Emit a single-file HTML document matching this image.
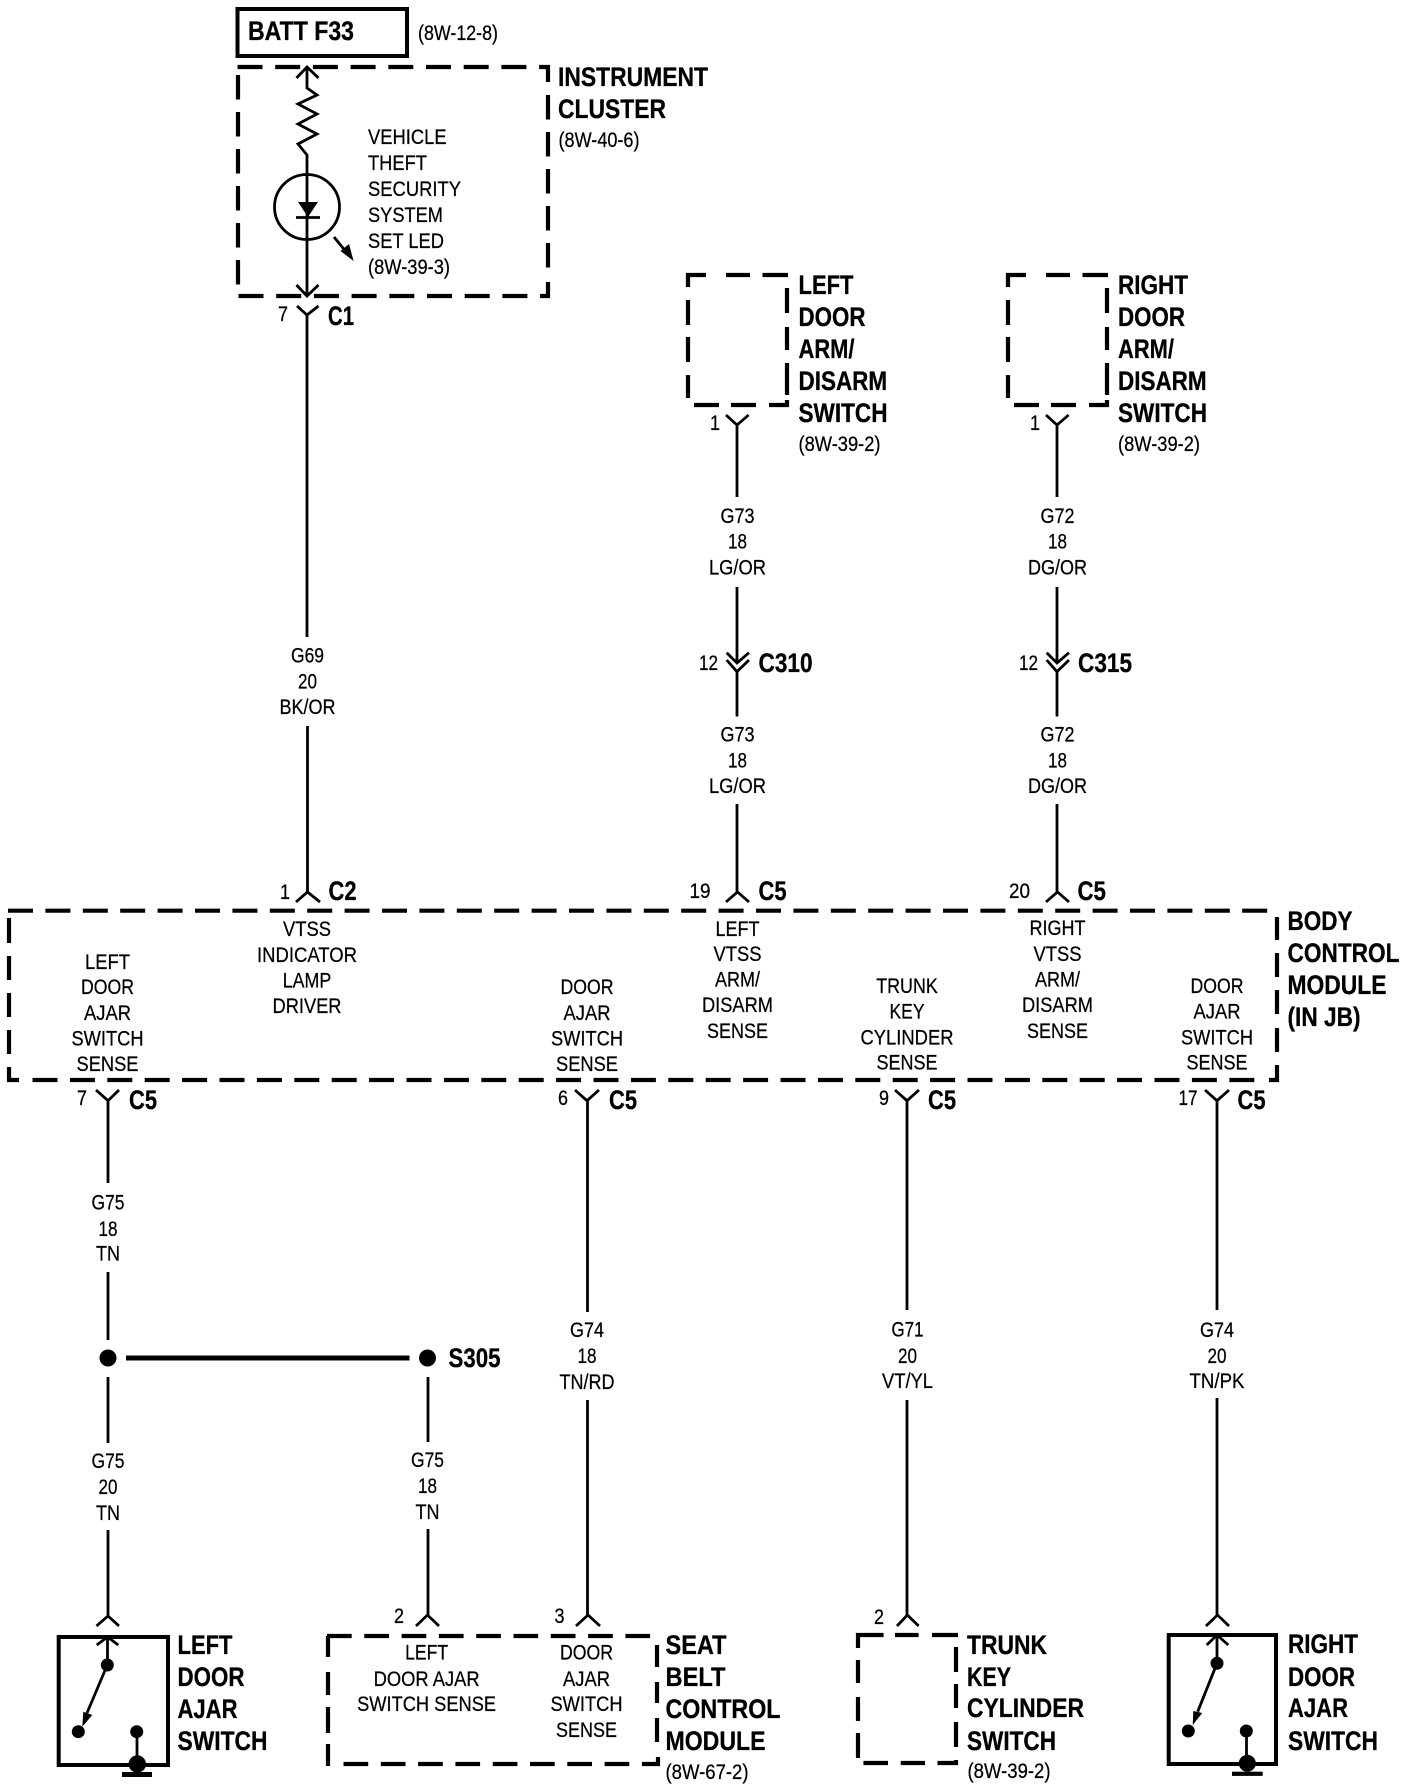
<!DOCTYPE html>
<html><head><meta charset="utf-8"><style>
html,body{margin:0;padding:0;background:#fff}
svg{display:block}
text{font-family:"Liberation Sans",sans-serif;fill:#000}
.r{font-size:21.5px;stroke:#000;stroke-width:.25}
.b{font-size:27px;font-weight:bold;stroke:#000;stroke-width:.3}
.m text{text-anchor:middle}
.l{fill:none;stroke:#000;stroke-width:2.8}
.d{fill:none;stroke:#000;stroke-width:4.2}
</style></head><body>
<svg width="1408" height="1790" viewBox="0 0 1408 1790" xmlns="http://www.w3.org/2000/svg">
<rect width="1408" height="1790" fill="#fff"/>

<!-- BATT -->
<rect x="237.5" y="9" width="169.5" height="47" fill="none" stroke="#000" stroke-width="4"/>
<text class="b" x="248" y="40" textLength="106" lengthAdjust="spacingAndGlyphs">BATT F33</text>
<text class="r" x="418" y="40" textLength="80" lengthAdjust="spacingAndGlyphs">(8W-12-8)</text>

<!-- Instrument cluster -->
<path class="d" stroke-dasharray="25 12.7" d="M237.5 67H549"/>
<path class="d" stroke-dasharray="25 12.7" d="M238.5 296H549"/>
<path class="d" stroke-dasharray="24.5 12.5" d="M238 75V285"/>
<path class="d" d="M548 65V82M548 282V298"/>
<path class="d" stroke-dasharray="24.5 12.5" d="M548 95V270"/>
<path class="l" d="M296.5 78L307 67L318.5 78M307 67V88L317 95L298 104L317 114L298 124L317 134L298 144L307 155V296M296.5 285L307 296L318.5 285"/>
<circle cx="307" cy="207" r="32.5" fill="none" stroke="#000" stroke-width="2.8"/>
<path d="M298 202H318L308 217Z" fill="#000"/>
<path class="l" d="M296 217.5H320"/>
<path class="l" d="M334 237L347 253"/>
<path d="M353.6 261L340.5 251L349 244Z" fill="#000"/>
<text class="r" x="368" y="144" textLength="78.6" lengthAdjust="spacingAndGlyphs">VEHICLE</text>
<text class="r" x="368" y="170" textLength="59" lengthAdjust="spacingAndGlyphs">THEFT</text>
<text class="r" x="368" y="196" textLength="93" lengthAdjust="spacingAndGlyphs">SECURITY</text>
<text class="r" x="368" y="222" textLength="75" lengthAdjust="spacingAndGlyphs">SYSTEM</text>
<text class="r" x="368" y="248" textLength="76" lengthAdjust="spacingAndGlyphs">SET LED</text>
<text class="r" x="368" y="274" textLength="82" lengthAdjust="spacingAndGlyphs">(8W-39-3)</text>
<text class="b" x="558" y="86" textLength="150" lengthAdjust="spacingAndGlyphs">INSTRUMENT</text>
<text class="b" x="558" y="118" textLength="108" lengthAdjust="spacingAndGlyphs">CLUSTER</text>
<text class="r" x="558.5" y="147" textLength="81" lengthAdjust="spacingAndGlyphs">(8W-40-6)</text>

<!-- C1 + G69 wire -->
<path class="l" d="M297 306L307 315L318.5 306M307 315V637M307.5 726V892M296 902L307.5 892L320 902"/>
<text class="r" x="278" y="321" textLength="10" lengthAdjust="spacingAndGlyphs">7</text>
<text class="b" x="328" y="325" textLength="26" lengthAdjust="spacingAndGlyphs">C1</text>
<g class="m">
<text class="r" x="307.5" y="662.5" textLength="33" lengthAdjust="spacingAndGlyphs">G69</text>
<text class="r" x="307.5" y="688.5" textLength="19" lengthAdjust="spacingAndGlyphs">20</text>
<text class="r" x="307.5" y="714" textLength="56" lengthAdjust="spacingAndGlyphs">BK/OR</text>
</g>

<!-- Left door arm switch -->
<g id="arm">
<path class="d" d="M688 287V275H706M726 275H750M762.5 275H788M688 300V325M688 337V362M688 375V398M787 288V313M787 327V350M787 363V395M787 400V405H769M756 405H731M719 405H694"/>
<path class="l" d="M726 415L737 425L748.6 415M737 425V497M737 587V663M726.7 652.7L737 663L749 652.7M726.7 660L737 671.7L749 660M737 671.7V716.5M737 804V892M726 902L737.5 892L749 902"/>
</g>
<text class="b" x="798.5" y="294" textLength="55" lengthAdjust="spacingAndGlyphs">LEFT</text>
<text class="b" x="798.5" y="326" textLength="67" lengthAdjust="spacingAndGlyphs">DOOR</text>
<text class="b" x="798.5" y="358" textLength="56" lengthAdjust="spacingAndGlyphs">ARM/</text>
<text class="b" x="798.5" y="390" textLength="88.6" lengthAdjust="spacingAndGlyphs">DISARM</text>
<text class="b" x="798.5" y="422" textLength="89" lengthAdjust="spacingAndGlyphs">SWITCH</text>
<text class="r" x="798.5" y="451" textLength="82" lengthAdjust="spacingAndGlyphs">(8W-39-2)</text>
<text class="r" x="710" y="430" textLength="10" lengthAdjust="spacingAndGlyphs">1</text>
<text class="r" x="699" y="670" textLength="19" lengthAdjust="spacingAndGlyphs">12</text>
<text class="b" x="758.5" y="672" textLength="54" lengthAdjust="spacingAndGlyphs">C310</text>
<g class="m">
<text class="r" x="737.5" y="523" textLength="34" lengthAdjust="spacingAndGlyphs">G73</text>
<text class="r" x="737.5" y="548.5" textLength="19" lengthAdjust="spacingAndGlyphs">18</text>
<text class="r" x="737.5" y="574.5" textLength="57" lengthAdjust="spacingAndGlyphs">LG/OR</text>
<text class="r" x="737.5" y="741.5" textLength="34" lengthAdjust="spacingAndGlyphs">G73</text>
<text class="r" x="737.5" y="767.5" textLength="19" lengthAdjust="spacingAndGlyphs">18</text>
<text class="r" x="737.5" y="793" textLength="57" lengthAdjust="spacingAndGlyphs">LG/OR</text>
</g>

<!-- Right door arm switch -->
<use href="#arm" x="320" y="0"/>
<text class="b" x="1118" y="294" textLength="70" lengthAdjust="spacingAndGlyphs">RIGHT</text>
<text class="b" x="1118" y="326" textLength="67" lengthAdjust="spacingAndGlyphs">DOOR</text>
<text class="b" x="1118" y="358" textLength="56" lengthAdjust="spacingAndGlyphs">ARM/</text>
<text class="b" x="1118" y="390" textLength="88.6" lengthAdjust="spacingAndGlyphs">DISARM</text>
<text class="b" x="1118" y="422" textLength="89" lengthAdjust="spacingAndGlyphs">SWITCH</text>
<text class="r" x="1118" y="451" textLength="82" lengthAdjust="spacingAndGlyphs">(8W-39-2)</text>
<text class="r" x="1030" y="430" textLength="10" lengthAdjust="spacingAndGlyphs">1</text>
<text class="r" x="1019" y="670" textLength="19" lengthAdjust="spacingAndGlyphs">12</text>
<text class="b" x="1078" y="672" textLength="54" lengthAdjust="spacingAndGlyphs">C315</text>
<g class="m">
<text class="r" x="1057.5" y="523" textLength="34" lengthAdjust="spacingAndGlyphs">G72</text>
<text class="r" x="1057.5" y="548.5" textLength="19" lengthAdjust="spacingAndGlyphs">18</text>
<text class="r" x="1057.5" y="574.5" textLength="59" lengthAdjust="spacingAndGlyphs">DG/OR</text>
<text class="r" x="1057.5" y="741.5" textLength="34" lengthAdjust="spacingAndGlyphs">G72</text>
<text class="r" x="1057.5" y="767.5" textLength="19" lengthAdjust="spacingAndGlyphs">18</text>
<text class="r" x="1057.5" y="793" textLength="59" lengthAdjust="spacingAndGlyphs">DG/OR</text>
</g>

<!-- Connector labels above BCM -->
<text class="r" x="280" y="899" textLength="10" lengthAdjust="spacingAndGlyphs">1</text>
<text class="b" x="328.5" y="900" textLength="28" lengthAdjust="spacingAndGlyphs">C2</text>
<text class="r" x="689.5" y="898" textLength="21" lengthAdjust="spacingAndGlyphs">19</text>
<text class="b" x="758.5" y="900" textLength="28" lengthAdjust="spacingAndGlyphs">C5</text>
<text class="r" x="1009" y="898" textLength="21" lengthAdjust="spacingAndGlyphs">20</text>
<text class="b" x="1077.5" y="900" textLength="28.4" lengthAdjust="spacingAndGlyphs">C5</text>

<!-- BCM box -->
<path class="d" stroke-dasharray="25 12.4" d="M8 910.7H1270"/>
<path class="d" d="M9 918V943M9 956V980M9 993V1017M9 1030V1054M9 1067V1080H19M1277 917V940M1277 953V977M1277 990V1014M1277 1028V1052M1277 1065V1080H1269"/>
<path class="d" stroke-dasharray="25 12.4" d="M32.5 1080H1256"/>
<g class="m">
<text class="r" x="307" y="936" textLength="48" lengthAdjust="spacingAndGlyphs">VTSS</text>
<text class="r" x="307" y="962" textLength="100" lengthAdjust="spacingAndGlyphs">INDICATOR</text>
<text class="r" x="307" y="987.5" textLength="48.5" lengthAdjust="spacingAndGlyphs">LAMP</text>
<text class="r" x="307" y="1013" textLength="69" lengthAdjust="spacingAndGlyphs">DRIVER</text>

<text class="r" x="107.5" y="969" textLength="45" lengthAdjust="spacingAndGlyphs">LEFT</text>
<text class="r" x="107.5" y="994" textLength="53" lengthAdjust="spacingAndGlyphs">DOOR</text>
<text class="r" x="107.5" y="1020" textLength="47" lengthAdjust="spacingAndGlyphs">AJAR</text>
<text class="r" x="107.5" y="1045.5" textLength="72" lengthAdjust="spacingAndGlyphs">SWITCH</text>
<text class="r" x="107.5" y="1071" textLength="62" lengthAdjust="spacingAndGlyphs">SENSE</text>

<text class="r" x="587" y="994" textLength="53" lengthAdjust="spacingAndGlyphs">DOOR</text>
<text class="r" x="587" y="1020" textLength="47" lengthAdjust="spacingAndGlyphs">AJAR</text>
<text class="r" x="587" y="1045.5" textLength="72" lengthAdjust="spacingAndGlyphs">SWITCH</text>
<text class="r" x="587" y="1071" textLength="62" lengthAdjust="spacingAndGlyphs">SENSE</text>

<text class="r" x="737.5" y="936" textLength="44" lengthAdjust="spacingAndGlyphs">LEFT</text>
<text class="r" x="737.5" y="961" textLength="48" lengthAdjust="spacingAndGlyphs">VTSS</text>
<text class="r" x="737.5" y="986.5" textLength="45" lengthAdjust="spacingAndGlyphs">ARM/</text>
<text class="r" x="737.5" y="1012" textLength="71" lengthAdjust="spacingAndGlyphs">DISARM</text>
<text class="r" x="737.5" y="1038" textLength="61" lengthAdjust="spacingAndGlyphs">SENSE</text>

<text class="r" x="907" y="993" textLength="61.5" lengthAdjust="spacingAndGlyphs">TRUNK</text>
<text class="r" x="907" y="1018.5" textLength="35" lengthAdjust="spacingAndGlyphs">KEY</text>
<text class="r" x="907" y="1044.5" textLength="93" lengthAdjust="spacingAndGlyphs">CYLINDER</text>
<text class="r" x="907" y="1069.5" textLength="61" lengthAdjust="spacingAndGlyphs">SENSE</text>

<text class="r" x="1057.5" y="935" textLength="56" lengthAdjust="spacingAndGlyphs">RIGHT</text>
<text class="r" x="1057.5" y="961" textLength="48" lengthAdjust="spacingAndGlyphs">VTSS</text>
<text class="r" x="1057.5" y="986.5" textLength="45" lengthAdjust="spacingAndGlyphs">ARM/</text>
<text class="r" x="1057.5" y="1012" textLength="71" lengthAdjust="spacingAndGlyphs">DISARM</text>
<text class="r" x="1057.5" y="1038" textLength="61" lengthAdjust="spacingAndGlyphs">SENSE</text>

<text class="r" x="1217" y="993" textLength="53" lengthAdjust="spacingAndGlyphs">DOOR</text>
<text class="r" x="1217" y="1018.5" textLength="47" lengthAdjust="spacingAndGlyphs">AJAR</text>
<text class="r" x="1217" y="1044.5" textLength="72" lengthAdjust="spacingAndGlyphs">SWITCH</text>
<text class="r" x="1217" y="1069.5" textLength="61" lengthAdjust="spacingAndGlyphs">SENSE</text>
</g>
<text class="b" x="1287.5" y="930" textLength="65" lengthAdjust="spacingAndGlyphs">BODY</text>
<text class="b" x="1287.5" y="962" textLength="112" lengthAdjust="spacingAndGlyphs">CONTROL</text>
<text class="b" x="1287.5" y="994" textLength="99" lengthAdjust="spacingAndGlyphs">MODULE</text>
<text class="b" x="1287.5" y="1026" textLength="73" lengthAdjust="spacingAndGlyphs">(IN JB)</text>

<!-- Connectors below BCM -->
<path class="l" d="M96 1090L108 1100.7L119 1090M575 1090L587 1100.7L599 1090M895 1090L907 1100.7L919 1090M1205 1090L1217 1100.7L1229 1090"/>
<path class="l" d="M108 1100.7V1183M108 1272V1340M108 1377V1443M108 1530V1616M587.5 1100.7V1312M587.5 1400V1615M907 1100.7V1310M907 1400V1615M1217 1100.7V1310M1217 1398V1615M428 1377V1442M428 1529V1615"/>
<text class="r" x="77" y="1105" textLength="10" lengthAdjust="spacingAndGlyphs">7</text>
<text class="b" x="129" y="1109" textLength="28" lengthAdjust="spacingAndGlyphs">C5</text>
<text class="r" x="558" y="1105" textLength="10" lengthAdjust="spacingAndGlyphs">6</text>
<text class="b" x="609" y="1109" textLength="28" lengthAdjust="spacingAndGlyphs">C5</text>
<text class="r" x="879" y="1105" textLength="10" lengthAdjust="spacingAndGlyphs">9</text>
<text class="b" x="928" y="1109" textLength="28" lengthAdjust="spacingAndGlyphs">C5</text>
<text class="r" x="1178.5" y="1105" textLength="19" lengthAdjust="spacingAndGlyphs">17</text>
<text class="b" x="1237.5" y="1109" textLength="28" lengthAdjust="spacingAndGlyphs">C5</text>

<g class="m">
<text class="r" x="108" y="1209.5" textLength="33" lengthAdjust="spacingAndGlyphs">G75</text>
<text class="r" x="108" y="1236" textLength="19" lengthAdjust="spacingAndGlyphs">18</text>
<text class="r" x="108" y="1260.7" textLength="24" lengthAdjust="spacingAndGlyphs">TN</text>
<text class="r" x="108" y="1468" textLength="33" lengthAdjust="spacingAndGlyphs">G75</text>
<text class="r" x="108" y="1494" textLength="19" lengthAdjust="spacingAndGlyphs">20</text>
<text class="r" x="108" y="1520" textLength="24" lengthAdjust="spacingAndGlyphs">TN</text>
<text class="r" x="427.5" y="1467" textLength="33" lengthAdjust="spacingAndGlyphs">G75</text>
<text class="r" x="427.5" y="1493" textLength="19" lengthAdjust="spacingAndGlyphs">18</text>
<text class="r" x="427.5" y="1519" textLength="24" lengthAdjust="spacingAndGlyphs">TN</text>
<text class="r" x="587" y="1337" textLength="34" lengthAdjust="spacingAndGlyphs">G74</text>
<text class="r" x="587" y="1363" textLength="19" lengthAdjust="spacingAndGlyphs">18</text>
<text class="r" x="587" y="1389" textLength="55" lengthAdjust="spacingAndGlyphs">TN/RD</text>
<text class="r" x="907.5" y="1336.5" textLength="32" lengthAdjust="spacingAndGlyphs">G71</text>
<text class="r" x="907.5" y="1363" textLength="19" lengthAdjust="spacingAndGlyphs">20</text>
<text class="r" x="907.5" y="1388" textLength="51" lengthAdjust="spacingAndGlyphs">VT/YL</text>
<text class="r" x="1217" y="1337" textLength="34" lengthAdjust="spacingAndGlyphs">G74</text>
<text class="r" x="1217" y="1363" textLength="19" lengthAdjust="spacingAndGlyphs">20</text>
<text class="r" x="1217" y="1388" textLength="55" lengthAdjust="spacingAndGlyphs">TN/PK</text>
</g>

<!-- Splice -->
<circle cx="108" cy="1358" r="8.5"/>
<circle cx="427.5" cy="1358" r="8.5"/>
<rect x="126" y="1355.5" width="283.5" height="5"/>
<text class="b" x="448.5" y="1367" textLength="52" lengthAdjust="spacingAndGlyphs">S305</text>

<!-- Left door ajar switch -->
<path class="l" d="M96.5 1626L108 1616L119 1626M96.7 1645L107.5 1637L118.3 1645M107.5 1637V1665M107.3 1665L87 1713"/>
<rect x="58.7" y="1637" width="109.3" height="128" fill="none" stroke="#000" stroke-width="4"/>
<circle cx="107.3" cy="1665" r="6.5"/>
<circle cx="78.3" cy="1731.7" r="6.5"/>
<path d="M82.3 1726.7L83.3 1711.7L92.3 1715Z" fill="#000"/>
<circle cx="136.7" cy="1731.7" r="6.5"/>
<path class="l" d="M137 1731.7V1765"/>
<circle cx="137.3" cy="1764" r="8.7"/>
<rect x="122" y="1772" width="30" height="5"/>
<text class="b" x="177.5" y="1654" textLength="55" lengthAdjust="spacingAndGlyphs">LEFT</text>
<text class="b" x="177.5" y="1686" textLength="67" lengthAdjust="spacingAndGlyphs">DOOR</text>
<text class="b" x="177.5" y="1718" textLength="60" lengthAdjust="spacingAndGlyphs">AJAR</text>
<text class="b" x="177.5" y="1750" textLength="90" lengthAdjust="spacingAndGlyphs">SWITCH</text>

<!-- Seat belt control module -->
<path class="d" stroke-dasharray="24.7 12.6" d="M327 1636H653"/>
<path class="d" stroke-dasharray="24.7 12.6" d="M343.5 1764H644"/>
<path class="d" d="M328 1636V1657M328 1672V1695M328 1707V1733M328 1744V1766M644 1764H658V1757M657 1645V1667M657 1682V1703M657 1718V1742"/>
<path class="l" d="M416 1626L427.5 1615L439 1626M576 1626L588 1615L600 1626"/>
<text class="r" x="394" y="1623" textLength="10" lengthAdjust="spacingAndGlyphs">2</text>
<text class="r" x="554.5" y="1623" textLength="10" lengthAdjust="spacingAndGlyphs">3</text>
<g class="m">
<text class="r" x="426.6" y="1659.7" textLength="43" lengthAdjust="spacingAndGlyphs">LEFT</text>
<text class="r" x="426.6" y="1686" textLength="106" lengthAdjust="spacingAndGlyphs">DOOR AJAR</text>
<text class="r" x="426.6" y="1711" textLength="139" lengthAdjust="spacingAndGlyphs">SWITCH SENSE</text>
<text class="r" x="586.5" y="1659.7" textLength="53" lengthAdjust="spacingAndGlyphs">DOOR</text>
<text class="r" x="586.5" y="1686" textLength="47" lengthAdjust="spacingAndGlyphs">AJAR</text>
<text class="r" x="586.5" y="1711" textLength="72" lengthAdjust="spacingAndGlyphs">SWITCH</text>
<text class="r" x="586.5" y="1737" textLength="61" lengthAdjust="spacingAndGlyphs">SENSE</text>
</g>
<text class="b" x="665.5" y="1654" textLength="61" lengthAdjust="spacingAndGlyphs">SEAT</text>
<text class="b" x="665.5" y="1686" textLength="60" lengthAdjust="spacingAndGlyphs">BELT</text>
<text class="b" x="665.5" y="1718" textLength="115" lengthAdjust="spacingAndGlyphs">CONTROL</text>
<text class="b" x="665.5" y="1750" textLength="100" lengthAdjust="spacingAndGlyphs">MODULE</text>
<text class="r" x="665.5" y="1779" textLength="83" lengthAdjust="spacingAndGlyphs">(8W-67-2)</text>

<!-- Trunk key cylinder switch -->
<path class="d" d="M883.6 1635H858V1648M895 1635H918.6M932 1635H958M858 1660V1683M858 1697V1721M858 1733V1758M956 1647V1672M956 1684V1708M956 1722V1747M956 1760V1763H937.5M925 1763H900.7M888 1763H863.4"/>
<path class="l" d="M897 1626L907.4 1615L918.6 1626"/>
<text class="r" x="874" y="1624" textLength="10" lengthAdjust="spacingAndGlyphs">2</text>
<text class="b" x="967" y="1654" textLength="80" lengthAdjust="spacingAndGlyphs">TRUNK</text>
<text class="b" x="967" y="1686" textLength="44" lengthAdjust="spacingAndGlyphs">KEY</text>
<text class="b" x="967" y="1717" textLength="117" lengthAdjust="spacingAndGlyphs">CYLINDER</text>
<text class="b" x="967" y="1750" textLength="89" lengthAdjust="spacingAndGlyphs">SWITCH</text>
<text class="r" x="967.5" y="1778" textLength="83" lengthAdjust="spacingAndGlyphs">(8W-39-2)</text>

<!-- Right door ajar switch -->
<path class="l" d="M1206 1626L1217.5 1615L1229 1626M1206.7 1645L1217 1635L1228.3 1645M1217 1635V1663M1217 1663.3L1197.7 1711.7"/>
<rect x="1168.7" y="1635" width="107.3" height="129" fill="none" stroke="#000" stroke-width="4"/>
<circle cx="1217" cy="1663.3" r="6.5"/>
<circle cx="1188.3" cy="1731" r="6.5"/>
<path d="M1192.7 1725L1193.3 1711L1202.3 1713Z" fill="#000"/>
<circle cx="1246.3" cy="1731" r="6.5"/>
<path class="l" d="M1246.5 1731V1765"/>
<circle cx="1247.3" cy="1763.3" r="8.5"/>
<rect x="1232" y="1771.7" width="30.7" height="4.2"/>
<text class="b" x="1288" y="1653" textLength="70" lengthAdjust="spacingAndGlyphs">RIGHT</text>
<text class="b" x="1288" y="1686" textLength="67" lengthAdjust="spacingAndGlyphs">DOOR</text>
<text class="b" x="1288" y="1717" textLength="60" lengthAdjust="spacingAndGlyphs">AJAR</text>
<text class="b" x="1288" y="1750" textLength="90" lengthAdjust="spacingAndGlyphs">SWITCH</text>
</svg>
</body></html>
